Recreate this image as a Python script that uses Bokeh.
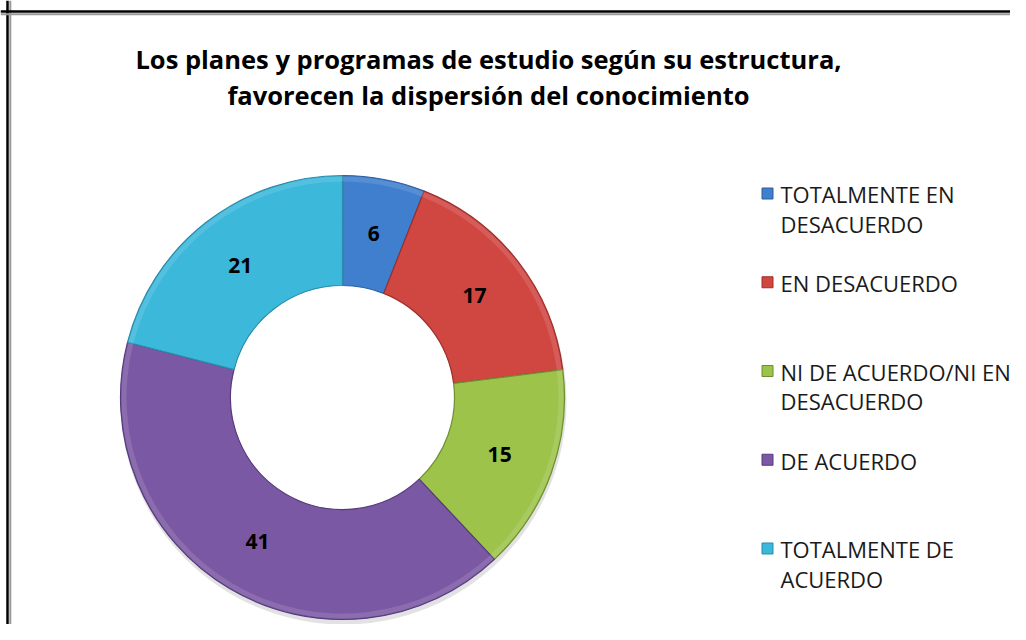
import numpy as np
from bokeh.plotting import figure
from bokeh.models import Range1d, Span, ColumnDataSource
from bokeh.core.properties import value
from bokeh.embed import file_html
from bokeh.resources import INLINE

# ---- data ----
categories = ["TOTALMENTE EN\nDESACUERDO", "EN DESACUERDO",
              "NI DE ACUERDO/NI EN\nDESACUERDO", "DE ACUERDO",
              "TOTALMENTE DE\nACUERDO"]
values = [6, 17, 15, 41, 21]
colors = ["#3f7fcd", "#d04641", "#9dc34b", "#7b58a3", "#3bb8da"]
edge_colors = ["#2c5f9e", "#9c2f2c", "#6f8f2f", "#553b7c", "#2a8bab"]
title_text = "Los planes y programas de estudio según su estructura,\nfavorecen la dispersión del conocimiento"

W, H = 1010, 624
p = figure(width=W, height=H, output_backend="svg", toolbar_location=None,
           x_range=Range1d(0, W), y_range=Range1d(-H, 0),
           min_border=0, outline_line_color=None)
p.axis.visible = False
p.grid.visible = False
p.background_fill_color = "white"
p.border_fill_color = "white"

# frame border (left / top only, as in cropped reference)
p.add_layout(Span(location=7, dimension="height", line_color="black", line_width=2.5))
p.add_layout(Span(location=9.8, dimension="height", line_color="#9a9a9a", line_width=2))
p.add_layout(Span(location=-11, dimension="width", line_color="black", line_width=2.5))
p.add_layout(Span(location=-13.8, dimension="width", line_color="#9a9a9a", line_width=2))

# donut geometry (pixel coords, y negated)
cx, cy = 342, -397
r_out, r_in = 222, 112

vals = np.array(values, dtype=float)
frac = vals / vals.sum()
cum = np.concatenate([[0], np.cumsum(frac)])
start = np.pi / 2 - 2 * np.pi * cum[:-1]
end = np.pi / 2 - 2 * np.pi * cum[1:]
mid = (start + end) / 2
r_mid = (r_out + r_in) / 2

src = ColumnDataSource(dict(start=start, end=end, color=colors, edge=edge_colors,
                            lx=cx + r_mid * np.cos(mid), ly=cy + r_mid * np.sin(mid),
                            lab=[str(v) for v in values]))

# soft shadow
p.annular_wedge(x=cx + 1, y=cy - 4, inner_radius=r_in + 6, outer_radius=r_out + 1,
                start_angle=0, end_angle=2 * np.pi, fill_color="#cfcfcf",
                fill_alpha=0.6, line_color=None)

p.annular_wedge(x=cx, y=cy, inner_radius=r_in, outer_radius=r_out,
                start_angle="start", end_angle="end", direction="clock",
                fill_color="color", line_color="edge", line_width=1.2, source=src)
# bevel highlight
p.annular_wedge(x=cx, y=cy, inner_radius=r_out - 6, outer_radius=r_out - 1,
                start_angle="start", end_angle="end", direction="clock",
                fill_color="white", fill_alpha=0.12, line_color=None, source=src)

p.text(x="lx", y="ly", text="lab", source=src, text_align="center",
       text_baseline="middle", text_font=value("Open Sans"), text_font_style="bold",
       text_font_size="21px", text_color="black")

# title
p.text(x=[488], y=[-76.5], text=[title_text], text_align="center", text_baseline="middle",
       text_font=value("Open Sans"), text_font_style="bold", text_font_size="25.5px",
       text_color="black", text_line_height=37 / (25.5 * 1.362))

# legend
n = len(categories)
lh = 29
fs = 22
first_line = [194 + i * 88.75 for i in range(n)]
nlines = [c.count("\n") + 1 for c in categories]
p.scatter(x=[767] * n, y=[-(v - 1) for v in first_line], marker="square", size=11,
          fill_color=colors, line_color=edge_colors, line_width=1)
p.text(x=[780] * n, y=[-(v + (k - 1) * lh / 2) for v, k in zip(first_line, nlines)],
       text=categories, text_align="left", text_baseline="middle",
       text_font=value("Open Sans"), text_font_size=f"{fs}px", text_color="#1a1a1a",
       text_line_height=lh / (fs * 1.362))

open("out.html", "w").write(file_html(p, INLINE))
